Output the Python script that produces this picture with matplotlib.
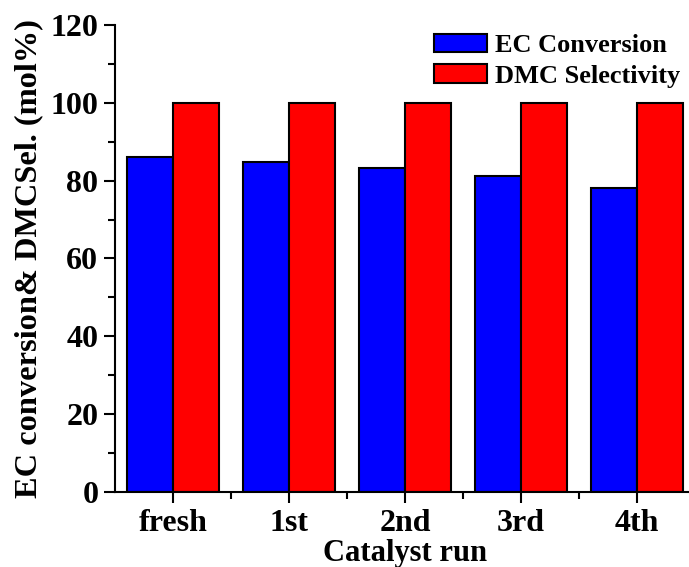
import matplotlib
matplotlib.use("Agg")
import matplotlib.pyplot as plt
import numpy as np
from matplotlib.ticker import MultipleLocator

runs = ["fresh", "1st", "2nd", "3rd", "4th"]
ec_conversion = [86.2, 84.7, 83.2, 81.1, 78.0]
dmc_selectivity = [100, 100, 100, 100, 100]

plt.rcParams["font.family"] = ["Liberation Serif", "DejaVu Serif"]
plt.rcParams["font.weight"] = "bold"

fig = plt.figure(figsize=(6.89, 5.67), dpi=100)
ax = fig.add_axes([0.1669, 0.1323, 0.8418, 0.8236])

x = np.arange(len(runs))
w = 0.4
ax.bar(x - w / 2, ec_conversion, w, color="#0000FF", edgecolor="black",
       linewidth=1.5, label="EC Conversion")
ax.bar(x + w / 2, dmc_selectivity, w, color="#FF0000", edgecolor="black",
       linewidth=1.5, label="DMC Selectivity")

ax.set_xlim(-0.5, 4.5)
ax.set_ylim(0, 120)
ax.set_xticks(x)
ax.set_xticklabels(runs)
ax.set_xticks(x + 0.5, minor=True)
ax.yaxis.set_major_locator(MultipleLocator(20))
ax.yaxis.set_minor_locator(MultipleLocator(10))

for s in ["top", "right"]:
    ax.spines[s].set_visible(False)
for s in ["left", "bottom"]:
    ax.spines[s].set_linewidth(1.5)

ax.tick_params(which="major", direction="out", length=8, width=1.5,
               labelsize=23, pad=4)
ax.tick_params(which="minor", direction="out", length=5, width=1.5)
for lab in ax.get_xticklabels() + ax.get_yticklabels():
    lab.set_fontweight("bold")

ax.set_xlabel("Catalyst run", fontsize=22, fontweight="bold", labelpad=1)
ax.set_ylabel("EC conversion& DMCSel. (mol%)", fontsize=23.3,
              fontweight="bold", labelpad=5)

leg = ax.legend(loc="upper left", bbox_to_anchor=(434 / 689, 1 - 34 / 567),
                bbox_transform=fig.transFigure, frameon=False,
                prop={"size": 19, "weight": "bold"}, handlelength=2.0,
                handleheight=0.7, handletextpad=0.3, labelspacing=0.25,
                borderpad=0, borderaxespad=0)
for t in leg.get_texts():
    t.set_fontweight("bold")

fig.savefig("out.png", dpi=100)
